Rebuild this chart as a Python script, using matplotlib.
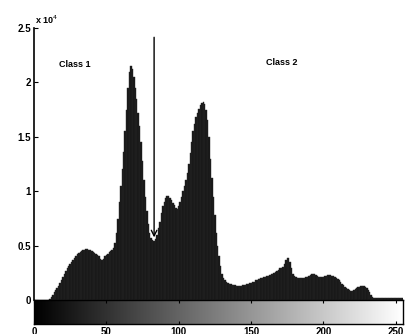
import numpy as np
import matplotlib
matplotlib.use('Agg')
import matplotlib.pyplot as plt

plt.rcParams['font.family'] = 'Liberation Sans'

# gray level histogram, counts in units of 10^4 (one value per gray level 0..255)
counts = [
    0.00, 0.00, 0.00, 0.00, 0.00, 0.00, 0.00, 0.00, 0.00, 0.00, 0.00, 0.01, 0.03, 0.05, 0.07, 0.09,
    0.11, 0.13, 0.16, 0.18, 0.21, 0.24, 0.27, 0.29, 0.31, 0.33, 0.35, 0.37, 0.39, 0.40, 0.42, 0.43,
    0.44, 0.45, 0.46, 0.46, 0.47, 0.47, 0.46, 0.46, 0.45, 0.44, 0.43, 0.42, 0.41, 0.40, 0.38, 0.37,
    0.38, 0.40, 0.41, 0.42, 0.44, 0.45, 0.46, 0.48, 0.52, 0.62, 0.74, 0.90, 1.05, 1.20, 1.36, 1.55,
    1.75, 1.95, 2.10, 2.15, 2.12, 2.05, 1.95, 1.85, 1.72, 1.60, 1.45, 1.28, 1.10, 0.95, 0.82, 0.70,
    0.62, 0.57, 0.55, 0.54, 0.56, 0.60, 0.66, 0.72, 0.80, 0.86, 0.90, 0.94, 0.96, 0.96, 0.94, 0.92,
    0.89, 0.87, 0.85, 0.84, 0.86, 0.90, 0.95, 1.00, 1.05, 1.10, 1.17, 1.25, 1.35, 1.45, 1.55, 1.62,
    1.68, 1.72, 1.76, 1.79, 1.81, 1.82, 1.80, 1.75, 1.65, 1.50, 1.30, 1.12, 0.95, 0.78, 0.62, 0.50,
    0.40, 0.31, 0.24, 0.20, 0.18, 0.17, 0.16, 0.15, 0.15, 0.14, 0.14, 0.14, 0.13, 0.13, 0.13, 0.13,
    0.14, 0.14, 0.14, 0.15, 0.15, 0.16, 0.16, 0.17, 0.17, 0.18, 0.18, 0.19, 0.19, 0.20, 0.20, 0.21,
    0.21, 0.22, 0.22, 0.23, 0.24, 0.24, 0.25, 0.26, 0.27, 0.28, 0.29, 0.29, 0.30, 0.33, 0.37, 0.39,
    0.39, 0.35, 0.29, 0.24, 0.22, 0.21, 0.20, 0.20, 0.20, 0.20, 0.20, 0.20, 0.21, 0.21, 0.22, 0.23,
    0.24, 0.24, 0.24, 0.23, 0.22, 0.21, 0.21, 0.21, 0.21, 0.22, 0.22, 0.23, 0.23, 0.23, 0.22, 0.22,
    0.21, 0.20, 0.19, 0.18, 0.17, 0.15, 0.14, 0.12, 0.11, 0.10, 0.09, 0.08, 0.08, 0.09, 0.10, 0.11,
    0.12, 0.12, 0.13, 0.13, 0.13, 0.12, 0.11, 0.09, 0.07, 0.05, 0.03, 0.02, 0.02, 0.02, 0.02, 0.02,
    0.02, 0.02, 0.02, 0.02, 0.02, 0.02, 0.02, 0.02, 0.02, 0.02, 0.02, 0.02, 0.02, 0.02, 0.02, 0.02,
]
levels = np.arange(len(counts))

threshold = 83          # gray level of the split between the two classes
arrow_top = 2.44
arrow_tip = 0.55

y_ticks = [0, 0.5, 1, 1.5, 2, 2.5]
y_tick_labels = ['0', '0.5', '1', '1.5', '2', '2.5']
x_ticks = [0, 50, 100, 150, 200, 250]

W, H = 406, 334
fig = plt.figure(figsize=(W / 100, H / 100), dpi=100)
ax = fig.add_axes([34 / W, (H - 300) / H, 369 / W, 272 / H])
cax = fig.add_axes([34 / W, (H - 324) / H, 369 / W, 24 / H])

ax.bar(levels, counts, width=1.0, color='#161616', edgecolor='#262626', linewidth=0.3)
ax.set_xlim(0, 255)
ax.set_ylim(0, 2.5)
for side in ['top', 'right', 'bottom']:
    ax.spines[side].set_visible(False)
ax.spines['left'].set_linewidth(1.2)
ax.set_xticks([])
ax.set_yticks(y_ticks)
ax.set_yticklabels(y_tick_labels, fontsize=7, fontweight='bold')
ax.tick_params(axis='y', direction='in', length=3, width=0.8, pad=2)
ax.text(0.5, 2.52, 'x 10$^4$', fontsize=6.5, fontweight='bold', ha='left', va='bottom')

# threshold arrow
ax.annotate('', xy=(threshold, arrow_tip), xytext=(threshold, arrow_top),
            arrowprops=dict(arrowstyle='->', color='black', lw=1.0, mutation_scale=10))

ax.text(17, 2.16, 'Class 1', fontsize=6.5, fontweight='bold', ha='left', va='center')
ax.text(160, 2.18, 'Class 2', fontsize=6.5, fontweight='bold', ha='left', va='center')

# gray level bar under the histogram
cax.imshow(levels[None, :], cmap='gray', aspect='auto', extent=[0, 255, 0, 1])
cax.set_xlim(0, 255)
cax.set_yticks([])
cax.set_xticks(x_ticks)
cax.set_xticklabels([str(t) for t in x_ticks], fontsize=7, fontweight='bold')
cax.tick_params(axis='x', direction='in', length=2, width=0.8, top=True, pad=2)
for s in cax.spines.values():
    s.set_linewidth(1.0)

fig.savefig('out.png', dpi=100)
